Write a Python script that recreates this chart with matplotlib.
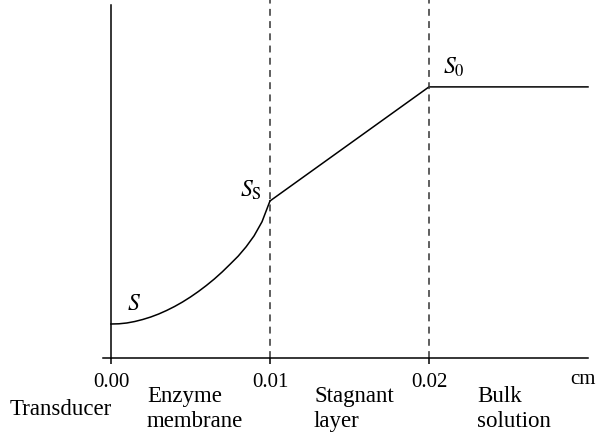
import matplotlib
matplotlib.use("Agg")
import matplotlib.pyplot as plt

plt.rcParams['font.family'] = ['Liberation Serif', 'DejaVu Serif']
plt.rcParams['mathtext.fontset'] = 'stix'

# distance from transducer (cm) and substrate concentration (fraction of axis height)
x_membrane = [0.0, 0.0005, 0.001, 0.0015, 0.002, 0.0025, 0.003, 0.0035, 0.004, 0.0045, 0.005,
              0.0055, 0.006, 0.0065, 0.007, 0.0075, 0.008, 0.0085, 0.009, 0.0095, 0.01]
s_membrane = [0.0963, 0.0969, 0.0992, 0.1034, 0.1091, 0.1161, 0.1246, 0.1346, 0.1459, 0.1586, 0.1728,
              0.1884, 0.2054, 0.2238, 0.2440, 0.2660, 0.2885, 0.3150, 0.3460, 0.3860, 0.4448]
x_outer = [0.01, 0.02, 0.03]
s_outer = [0.4448, 0.768, 0.768]
boundaries = [0.01, 0.02]
tick_pos = [0.0, 0.01, 0.02]
tick_labels = ["0.00", "0.01", "0.02"]
# region name lines and their left edge (cm)
regions = [(["Enzyme", "membrane"], 0.00226), (["Stagnant", "layer"], 0.01277), (["Bulk", "solution"], 0.02302)]

W, H = 596, 434
fig = plt.figure(figsize=(W / 100, H / 100), dpi=100)
ax = fig.add_axes([103 / W, 76 / H, 485 / W, 358 / H])
ax.set_xlim(-0.0005, 0.0300)
ax.set_ylim(0, 358 / 353)

ax.plot(x_membrane, s_membrane, color='black', lw=1.1, clip_on=False, solid_joinstyle='round')
ax.plot(x_outer, s_outer, color='black', lw=1.1, clip_on=False)
for b in boundaries:
    ax.axvline(b, color='#333333', lw=1.1, dashes=(4.5, 3.5))

for side in ['top', 'right']:
    ax.spines[side].set_visible(False)
ax.spines['left'].set_position(('data', 0))
ax.spines['left'].set_bounds(0, 1.0)
ax.spines['left'].set_linewidth(1.1)
ax.spines['bottom'].set_linewidth(1.1)
ax.set_yticks([])
ax.set_xticks(tick_pos, tick_labels)
ax.tick_params(axis='x', direction='out', length=4.5, width=1.1, pad=6, labelsize=15)

ax.text(0.02887, -0.074, "cm", fontsize=15, ha='left', va='baseline', clip_on=False)
ax.text(-0.00635, -0.1615, "Transducer", fontsize=16.5, ha='left', va='baseline', clip_on=False)
for lines, xpos in regions:
    ax.text(xpos, -0.1246, lines[0], fontsize=16.5, ha='left', va='baseline', clip_on=False)
    ax.text(xpos, -0.1955, lines[1], fontsize=16.5, ha='left', va='baseline', clip_on=False)

ax.text(0.001, 0.136, "$S$", fontsize=17, ha='left', va='baseline')
ax.text(0.0081, 0.456, "$S_\\mathrm{S}$", fontsize=17, ha='left', va='baseline')
ax.text(0.0209, 0.8045, "$S_0$", fontsize=17, ha='left', va='baseline')

fig.savefig("out.png", dpi=100)
